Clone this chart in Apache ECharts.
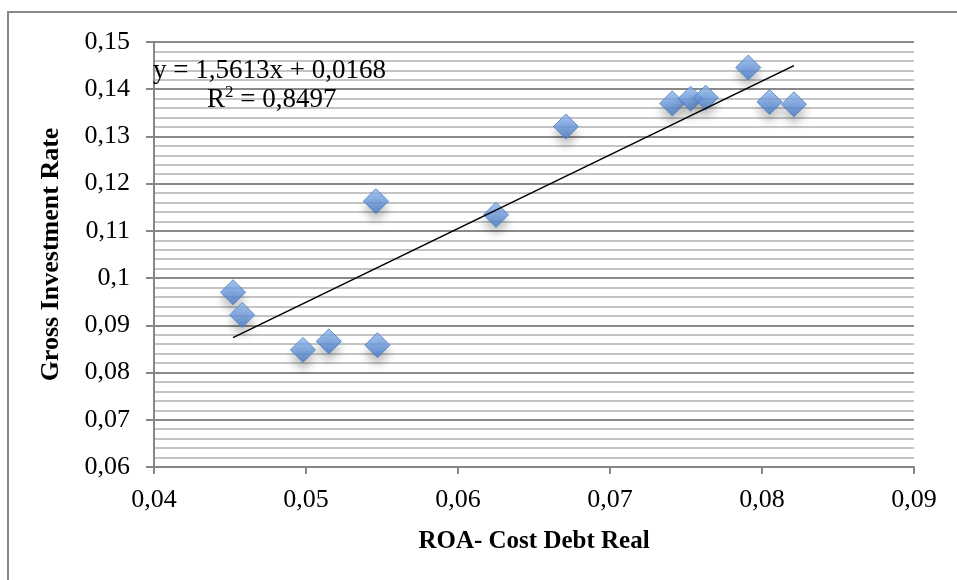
<!DOCTYPE html>
<html>
<head>
<meta charset="utf-8">
<script src="https://cdn.jsdelivr.net/npm/echarts@6/dist/echarts.min.js"></script>
<style>html,body{margin:0;padding:0;background:#fff}#c{width:957px;height:580px}</style>
</head>
<body>
<div id="c"></div>
<script>
// Data
var roaCostDebt = [0.0452, 0.0458, 0.0498, 0.0515, 0.0546, 0.0547, 0.0625, 0.0671, 0.0741, 0.0753, 0.0763, 0.0791, 0.0805, 0.0821];
var grossInvestment = [0.0970, 0.0922, 0.0848, 0.0866, 0.1163, 0.0858, 0.1134, 0.1321, 0.1370, 0.1380, 0.1382, 0.1446, 0.1373, 0.1368];
var trendX = [0.0452, 0.0821];
var trendY = [0.0874, 0.1450];
var equationText = 'y = 1,5613x + 0,0168';
var r2Text = '{t|R}{s|2}{t| = 0,8497}';
var xTitle = 'ROA- Cost Debt Real';
var yTitle = 'Gross Investment Rate';

var pts = roaCostDebt.map(function (x, i) { return [x, grossInvestment[i]]; });
var trend = trendX.map(function (x, i) { return [x, trendY[i]]; });
function fmt(v) { return String(+v.toFixed(3)).replace('.', ','); }
var FONT = 'Liberation Serif';

var chart = echarts.init(document.getElementById('c'), null, { renderer: 'canvas' });
chart.setOption({
  animation: false,
  backgroundColor: '#fff',
  grid: { left: 154, top: 42, right: 43, bottom: 113, containLabel: false },
  xAxis: {
    type: 'value', min: 0.04, max: 0.09, interval: 0.01,
    name: xTitle, nameLocation: 'middle', nameGap: 62,
    nameTextStyle: { fontFamily: FONT, fontWeight: 'bold', fontSize: 25, color: '#000' },
    axisLine: { show: true, lineStyle: { color: '#868686', width: 2 } },
    axisTick: { show: true, length: 7, lineStyle: { color: '#868686', width: 2 } },
    axisLabel: { formatter: fmt, fontFamily: FONT, fontSize: 26, color: '#000', margin: 20 },
    splitLine: { show: false }
  },
  yAxis: {
    type: 'value', min: 0.06, max: 0.15, interval: 0.01,
    name: yTitle, nameLocation: 'middle', nameGap: 90, nameRotate: 90,
    nameTextStyle: { fontFamily: FONT, fontWeight: 'bold', fontSize: 26, color: '#000' },
    axisLine: { show: true, lineStyle: { color: '#868686', width: 2 } },
    axisTick: { show: true, length: 8, lineStyle: { color: '#868686', width: 2 } },
    axisLabel: { formatter: fmt, fontFamily: FONT, fontSize: 26, color: '#000', margin: 24 },
    splitLine: { show: true, lineStyle: { color: '#8a8a8a', width: 2 } },
    minorTick: { show: false, splitNumber: 5 },
    minorSplitLine: { show: true, lineStyle: { color: '#c4c4c4', width: 2 } }
  },
  series: [
    {
      type: 'scatter', data: pts, symbol: 'diamond', symbolSize: [25, 25], z: 3,
      itemStyle: {
        color: new echarts.graphic.LinearGradient(0, 0, 0, 1, [
          { offset: 0, color: '#93b8ea' },
          { offset: 0.5, color: '#6a9ae0' },
          { offset: 1, color: '#4679c4' }
        ]),
        borderColor: '#4a7cc0', borderWidth: 1,
        shadowColor: 'rgba(0,0,0,0.28)', shadowBlur: 8, shadowOffsetY: 8
      }
    },
    {
      type: 'line', data: trend, symbol: 'none', z: 4,
      lineStyle: { color: '#000', width: 1.6 }
    }
  ],
  graphic: [
    { type: 'rect', shape: { x: 8, y: 12, width: 1000, height: 700 }, style: { fill: 'none', stroke: '#888', lineWidth: 2 }, z: 100 },
    { type: 'text', left: 153, top: 57, style: { text: equationText, fontFamily: FONT, fontSize: 27, fill: '#000' }, z: 100 },
    { type: 'text', left: 207, top: 84, style: { text: r2Text, rich: {
        t: { fontFamily: FONT, fontSize: 27, fill: '#000', verticalAlign: 'bottom' },
        s: { fontFamily: FONT, fontSize: 17, fill: '#000', verticalAlign: 'top', padding: [0, 0, 12, 0] }
      } }, z: 100 }
  ]
});
</script>
</body>
</html>
